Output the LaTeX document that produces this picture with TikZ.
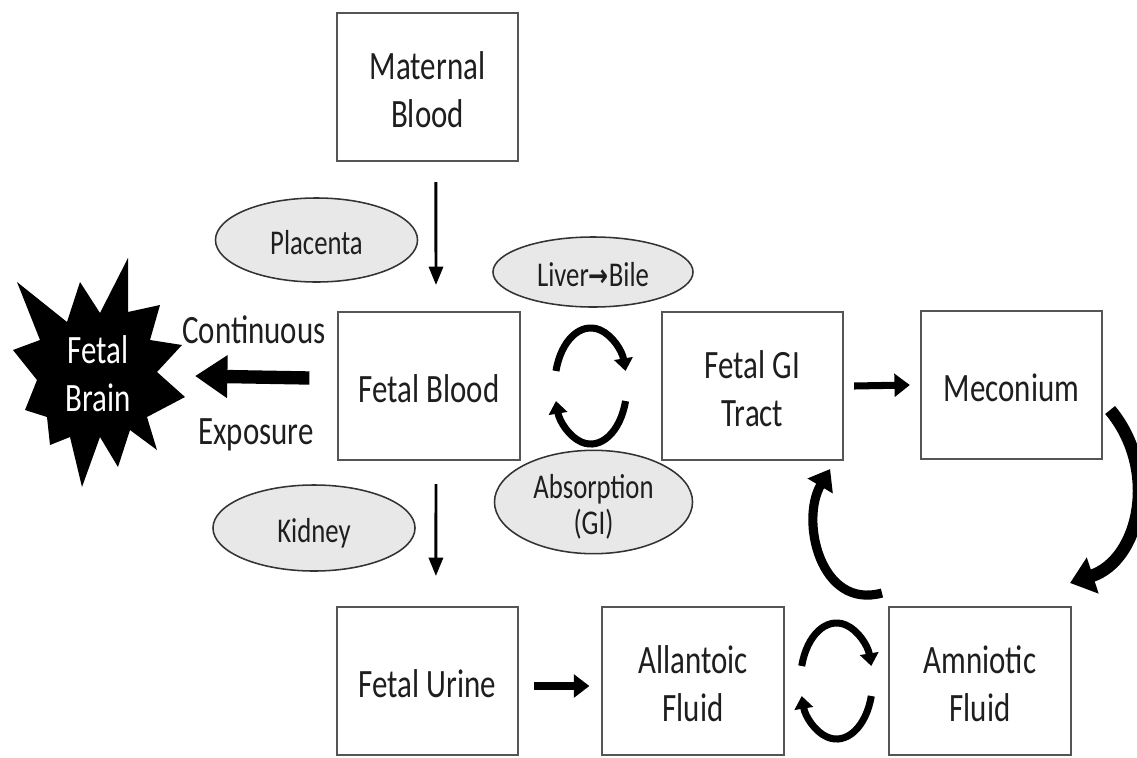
\documentclass[tikz,border=0pt]{standalone}
\usepackage{fontspec}
\usepackage{graphicx}
\setmainfont{Carlito}
\newfontfamily\dejavu{DejaVu Sans}
\usetikzlibrary{shapes.geometric,arrows.meta,calc}
\definecolor{boxline}{RGB}{85,85,85}
\definecolor{ellfill}{RGB}{232,232,232}
\definecolor{txt}{RGB}{30,30,30}
\newcommand{\tl}[1]{\raisebox{-5pt}[\height][\depth]{\scalebox{1}[1.3]{\begin{tabular}{@{}c@{}}#1\end{tabular}}}}
\begin{document}
\begin{tikzpicture}[x=0.025cm,y=-0.025cm,
  box/.style={draw=boxline, line width=1.4pt, fill=white, text=txt, inner sep=0pt,
    minimum width=4.53cm, minimum height=3.7cm, font=\fontsize{22}{26}\selectfont},
  ell/.style={ellipse, draw=black!80, line width=1.1pt, fill=ellfill, text=txt, inner sep=0pt,
    font=\fontsize{19}{20}\selectfont},
  thinarrow/.style={line width=2.1pt, -{Triangle[length=13pt,width=10pt]}},
  midarrow/.style={line width=5pt, -{Triangle[length=11pt,width=16pt]}},
  looparrow/.style={line width=5pt, -{Triangle[length=9pt,width=13pt]}},
  lbl/.style={text=txt, inner sep=0pt, font=\fontsize{22}{26}\selectfont},
]
\useasboundingbox (0,0) rectangle (1137,757);

% boxes
\node[box] (mat)   at (427.5,87)  {\tl{Maternal\\Blood}};
\node[box] (fb)    at (429,386)   {\tl{Fetal Blood}};
\node[box] (gi)    at (752.5,386) {\tl{Fetal GI\\Tract}};
\node[box] (meco)  at (1011.5,385){\tl{Meconium}};
\node[box] (urine) at (427.5,681) {\tl{Fetal Urine}};
\node[box] (allan) at (693,681)   {\tl{Allantoic\\Fluid}};
\node[box] (amn)   at (980,681)   {\tl{Amniotic\\Fluid}};

% ellipses
\node[ell, minimum width=5.05cm, minimum height=2.1cm]  (plac)  at (316.5,240) {\tl{Placenta}};
\node[ell, minimum width=5.05cm, minimum height=2.15cm] (kid)   at (314,528)   {\tl{Kidney}};
\node[ell, minimum width=5.0cm,  minimum height=1.75cm] (liver) at (593,272)   {\tl{Liver{\dejavu\bfseries\fontsize{17}{17}\selectfont →}Bile}};
\node[ell, minimum width=4.95cm, minimum height=2.15cm] (abs)   at (593.5,502) {\tl{Absorption\\(GI)}};

% fetal brain star
\fill[black] (17,282) -- (67,322) -- (80,282) -- (100,313) -- (128,258) -- (128,312)
  -- (160,305) -- (150,340) -- (182,345) -- (157,372) -- (185,397) -- (147,417)
  -- (157,450) -- (130,430) -- (118,467) -- (100,437) -- (82,487) -- (70,437)
  -- (50,445) -- (47,417) -- (25,410) -- (37,380) -- (13,350) -- (40,340) -- cycle;
\node[lbl, text=white] (brain) at (98,371) {\tl{Fetal\\Brain}};

% labels of exposure arrow
\node[lbl] (cont) at (254,327) {\tl{Continuous}};
\node[lbl] (expo) at (256,428) {\tl{Exposure}};

% straight arrows
\draw[thinarrow] ([xshift=0.21cm,yshift=-0.5cm]mat.south) -- ([xshift=0.175cm,yshift=0.65cm]fb.north);
\draw[thinarrow] ([xshift=0.175cm,yshift=-0.575cm]fb.south) -- ([xshift=0.21cm,yshift=0.75cm]urine.north);
\draw[line width=9.5pt, -{Triangle[length=23pt,width=29pt]}]
  ([xshift=-0.7cm,yshift=0.2cm]fb.west) -- ([xshift=2.425cm,yshift=-0.125cm]brain.center);
\draw[midarrow] ([xshift=0.25cm]gi.east) -- ([xshift=-0.25cm]meco.west);
\draw[midarrow] ([xshift=0.375cm,yshift=-0.125cm]urine.east) -- ([xshift=-0.3cm,yshift=-0.125cm]allan.west);

% circular arrows
\coordinate (loop1) at ($(fb.east)!0.5!(gi.west)$);
\coordinate (loop2) at ($(allan.east)!0.5!(amn.west)$);
\foreach \c in {loop1,loop2}{
  \draw[looparrow] ([shift={(165:0.9cm and 1.45cm)}]\c) arc[start angle=165, end angle=15, x radius=0.9cm, y radius=1.45cm];
  \draw[looparrow] ([shift={(-15:0.9cm and 1.45cm)}]\c) arc[start angle=-15, end angle=-165, x radius=0.9cm, y radius=1.45cm];
}

% curved arrows
\draw[line width=9pt, -{Triangle[length=17pt,width=26pt]}]
  ([xshift=0.175cm,yshift=-0.625cm]meco.east) .. controls (1160,470) and (1140,560) .. ([xshift=2.25cm,yshift=0.575cm]amn.north);
\draw[line width=6.5pt, -{Triangle[length=14pt,width=20pt]}]
  ([xshift=-2.45cm,yshift=0.325cm]amn.north) .. controls (820,610) and (800,520) .. ([xshift=1.94cm,yshift=-0.2cm]gi.south);
\end{tikzpicture}
\end{document}
